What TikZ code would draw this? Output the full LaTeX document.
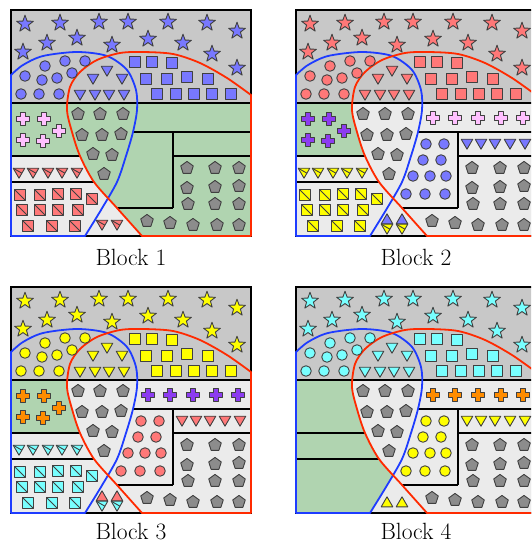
\documentclass[tikz,border=0pt]{standalone}
\usepackage{tikz}
\usepackage{xcolor}
\definecolor{bandgray}{HTML}{C8C8C8}
\definecolor{cellgray}{HTML}{EBEBEB}
\definecolor{cellgreen}{HTML}{B0D4B0}
\definecolor{setblue}{HTML}{1E3CFF}
\definecolor{setred}{HTML}{FF2A00}
\definecolor{periwinkle}{HTML}{7878FF}
\definecolor{salmon}{HTML}{FF7878}
\definecolor{lemon}{HTML}{FFFF00}
\definecolor{aqua}{HTML}{78FFFF}
\definecolor{orchid}{HTML}{FFC0FF}
\definecolor{grape}{HTML}{8C3CF0}
\definecolor{tangerine}{HTML}{FF8C00}
\definecolor{stone}{HTML}{8C8C8C}

% the two sets, in block coordinates (y grows downwards)
\newcommand{\bluesetpath}{plot[smooth] coordinates {(0,65) (12,55) (32,46) (66,42) (96,46) (116,60) (125,80) (126,100) (122,122) (115,146) (106,172) (90,200) (74,226)} -- (0,226) -- cycle}
\newcommand{\redsetpath}{plot[smooth] coordinates {(131,226) (106,198) (83,172) (69,146) (61,122) (56,100) (59,77) (69,62) (86,50) (109,43) (132,42) (162,44) (189,53) (216,68) (240,85)} -- (240,226) -- cycle}

\begin{document}
\begin{tikzpicture}[x=1pt, y=-1pt,
  glyph/.style={draw=black!75, line width=0.9pt, line join=round},
  frameline/.style={draw=black, line width=1.8pt},
  cellline/.style={black, line width=1.8pt},
  setline/.style={line width=1.8pt, line join=round},
  caption/.style={font=\fontsize{23.5}{27}\selectfont, anchor=base},
  gstar/.pic={\filldraw[glyph, fill=#1] (-90:8.8) \foreach \k in {1,...,4}{ -- (-90+72*\k-36:3.6) -- (-90+72*\k:8.8)} -- (-126:3.6) -- cycle;},
  gcirc/.pic={\filldraw[glyph, fill=#1] (0,0) circle (5.3);},
  gsq/.pic={\filldraw[glyph, fill=#1] (-5.3,-5.3) rectangle (5.3,5.3);},
  gsql/.pic={\filldraw[glyph, fill=#1] (-5.3,-5.3) rectangle (5.3,5.3); \draw[glyph] (-5.3,-5.3) -- (5.3,5.3);},
  gtri/.pic={\filldraw[glyph, fill=#1] (-5.8,-4.8) -- (5.8,-4.8) -- (0,5.2) -- cycle;},
  gtril/.pic={\filldraw[glyph, fill=#1] (-5.8,-4.8) -- (5.8,-4.8) -- (0,5.2) -- cycle; \draw[glyph] (-5.8,-4.8) -- (2.9,0.2);},
  gtriu/.pic={\filldraw[glyph, fill=#1] (-5.8,4.8) -- (5.8,4.8) -- (0,-5.2) -- cycle;},
  gplus/.pic={\filldraw[glyph, fill=#1] (-2.3,-6.5) -- (2.3,-6.5) -- (2.3,-2.3) -- (6.5,-2.3) -- (6.5,2.3) -- (2.3,2.3) -- (2.3,6.5) -- (-2.3,6.5) -- (-2.3,2.3) -- (-6.5,2.3) -- (-6.5,-2.3) -- (-2.3,-2.3) -- cycle;},
  gpent/.pic={\filldraw[glyph, fill=stone] (-90:6.6) -- (-18:6.6) -- (54:6.6) -- (126:6.6) -- (198:6.6) -- cycle;},
  blockgrid/.pic={
    \draw[cellline] (0,93) -- (240,93) (0,146) -- (69,146) (0,172) -- (83,172)
      (122,122) -- (240,122) (162,146) -- (240,146) (162,122) -- (162,198) (106,198) -- (162,198);
    \draw[frameline] (0,0) rectangle (240,226);
    \draw[setline, setblue] \bluesetpath;
    \draw[setline, setred] \redsetpath;
  },
  topband/.pic={
    \foreach \p in {(14,14),(49,13),(88,12),(117,12),(157,12),(196,13),(226,21),(36,33),(66,28),(101,35),(137,29),(172,33),(12,42),(201,44),(226,58)} \pic at \p {gstar=#1};
    \foreach \p in {(34,56),(54,51),(74,51),(14,66),(31,70),(46,68),(61,63),(10,84),(28,84),(48,84)} \pic at \p {gcirc=#1};
    \foreach \p in {(96,61),(82,69),(111,69),(69,85),(84,85),(98,85),(113,85)} \pic at \p {gtri=#1};
    \foreach \p in {(124,52),(141,52),(161,53),(135,69),(156,69),(176,67),(197,69),(146,84),(165,84),(183,84),(201,84),(220,84)} \pic at \p {gsq=#1};
  },
  pentagons/.pic={
    \foreach \p in {(67,104),(89,104),(112,104),(71,125),(91,125),(110,124),(82,144),(101,145),(93,164),
      (176,158),(204,158),(228,158),(176,178),(204,177),(228,176),(177,194),(204,194),(228,194),
      (136,211),(159,213),(182,215),(206,215),(228,215)} \pic at \p {gpent};
  },
  leftplus/.pic={\foreach \p in {(12,109),(33,109),(48,121),(12,130),(32,131)} \pic at \p {gplus=#1};},
  leftlined/.pic={
    \foreach \x in {8,22,37,51,66} \pic at (\x,163) {gtril=#1};
    \foreach \p in {(9,185),(29,185),(47,184),(65,184),(81,189),(11,200),(29,200),(47,200),(67,200),(17,216),(41,216),(64,216)} \pic at \p {gsql=#1};
  },
  stripplus/.pic={\foreach \x in {137,159,182,205,227} \pic at (\x,108) {gplus=#1};},
  cellmix/.pic={
    \foreach \x in {171,185,199,214,229} \pic at (\x,134) {gtri=#1};
    \foreach \p in {(130,134),(148,134),(127,150),(145,150),(117,166),(134,166),(150,166),(110,184),(129,184),(149,184)} \pic at \p {gcirc=#1};
  }
]
  \useasboundingbox (0,0) rectangle (531,543);
  \clip (0,0) rectangle (531,543);
  \fill[white] (0,0) rectangle (531,543);

  % Block 1
  \begin{scope}[shift={(11,10)}]
    \fill[bandgray] (0,0) rectangle (240,93);
    \fill[cellgray] (0,93) rectangle (240,226);
    \fill[cellgreen] (0,93) rectangle (240,146);
    \begin{scope}
      \clip (0,93) rectangle (240,226);
      \fill[cellgreen] \redsetpath;
    \end{scope}
    \pic {blockgrid};
    \pic {topband=periwinkle};
    \pic {pentagons};
    \pic {leftplus=orchid};
    \pic {leftlined=salmon};
    \foreach \x in {91,106} \pic at (\x,215) {gtril=salmon};
  \end{scope}

  % Block 2
  \begin{scope}[shift={(296,10)}]
    \fill[bandgray] (0,0) rectangle (240,93);
    \fill[cellgray] (0,93) rectangle (240,226);
    \fill[cellgreen] (0,93) rectangle (100,146);
    \begin{scope}
      \clip (0,93) rectangle (240,226);
      \fill[cellgray] \redsetpath;
    \end{scope}
    \pic {blockgrid};
    \pic {topband=salmon};
    \pic {pentagons};
    \pic {leftplus=grape};
    \pic {leftlined=lemon};
    \pic {stripplus=orchid};
    \pic {cellmix=periwinkle};
    \foreach \x in {91,106} {
      \pic at (\x,209) {gtriu=periwinkle};
      \pic at (\x,219) {gtril=lemon};
    }
  \end{scope}

  % Block 3
  \begin{scope}[shift={(11,287)}]
    \fill[bandgray] (0,0) rectangle (240,93);
    \fill[cellgray] (0,93) rectangle (240,226);
    \fill[cellgreen] (0,93) rectangle (100,146);
    \begin{scope}
      \clip (0,93) rectangle (240,226);
      \fill[cellgray] \redsetpath;
    \end{scope}
    \pic {blockgrid};
    \pic {topband=lemon};
    \pic {pentagons};
    \pic {leftplus=tangerine};
    \pic {leftlined=aqua};
    \pic {stripplus=grape};
    \pic {cellmix=salmon};
    \foreach \x in {91,106} {
      \pic at (\x,209) {gtriu=salmon};
      \pic at (\x,219) {gtril=aqua};
    }
  \end{scope}

  % Block 4
  \begin{scope}[shift={(296,287)}]
    \fill[bandgray] (0,0) rectangle (240,93);
    \fill[cellgray] (0,93) rectangle (240,226);
    \begin{scope}
      \clip (0,93) rectangle (240,226);
      \fill[cellgreen] \bluesetpath;
      \fill[cellgray] \redsetpath;
    \end{scope}
    \pic {blockgrid};
    \pic {topband=aqua};
    \pic {pentagons};
    \pic {stripplus=tangerine};
    \pic {cellmix=lemon};
    \foreach \x in {91,106} \pic at (\x,215) {gtriu=lemon};
  \end{scope}

  \node[caption] (cap1) at (131,265) {Block 1};
  \node[caption] (cap2) at (416,265) {Block 2};
  \node[caption] (cap3) at (131,539) {Block 3};
  \node[caption] (cap4) at (416,539) {Block 4};
\end{tikzpicture}
\end{document}
